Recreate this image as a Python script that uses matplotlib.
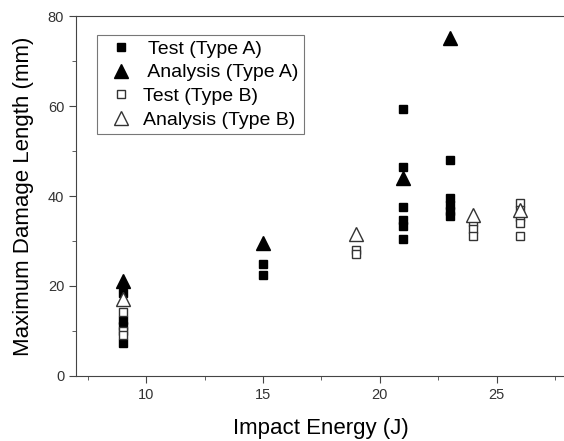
import matplotlib
matplotlib.use("Agg")
import matplotlib.pyplot as plt
from matplotlib.ticker import MultipleLocator

plt.rcParams["font.family"] = ["Liberation Sans", "DejaVu Sans"]

# Test (Type A): filled squares
test_a_x = [9, 9, 9, 9, 15, 15, 21, 21, 21, 21, 21, 21, 23, 23, 23, 23, 23]
test_a_y = [18.5, 12.4, 11.2, 7.3, 24.8, 22.4, 59.3, 46.5, 37.6, 34.7, 33.4, 30.4,
            48.0, 39.5, 38.0, 36.6, 35.6]

# Analysis (Type A): filled triangles
ana_a_x = [9, 15, 21, 23]
ana_a_y = [21.0, 29.5, 43.9, 75.2]

# Test (Type B): open squares
test_b_x = [9, 9, 9, 19, 19, 24, 24, 24, 26, 26, 26, 26, 26]
test_b_y = [14.2, 9.9, 9.2, 28.0, 27.1, 34.3, 32.7, 31.1, 38.5, 36.9, 35.4, 34.1, 31.1]

# Analysis (Type B): open triangles
ana_b_x = [9, 19, 24, 26]
ana_b_y = [17.2, 31.5, 35.8, 36.8]

fig = plt.figure(figsize=(5.64, 4.41), dpi=100)
ax = fig.add_axes([0.1348, 0.1474, 0.870, 0.8163])

ax.plot(test_a_x, test_a_y, "s", ms=5.5, mfc="black", mec="black", ls="none",
        label=" Test (Type A)")
ax.plot(ana_a_x, ana_a_y, "^", ms=10.5, mfc="black", mec="black", ls="none",
        label=" Analysis (Type A)")
ax.plot(test_b_x, test_b_y, "s", ms=5.5, mfc="white", mec="#333333", mew=1.0,
        ls="none", label="Test (Type B)")
ax.plot(ana_b_x, ana_b_y, "^", ms=10.5, mfc="white", mec="#333333", mew=1.0,
        ls="none", label="Analysis (Type B)")

ax.set_xlim(7, 28)
ax.set_ylim(0, 80)
ax.xaxis.set_major_locator(MultipleLocator(5))
ax.xaxis.set_minor_locator(MultipleLocator(2.5))
ax.yaxis.set_major_locator(MultipleLocator(20))
ax.yaxis.set_minor_locator(MultipleLocator(10))
ax.tick_params(which="both", direction="out", top=False, right=False,
               labelsize=10.5, labelcolor="#333333", color="#444444")
ax.tick_params(which="major", length=5)
ax.tick_params(which="minor", length=3)
ax.spines["right"].set_visible(False)
for s in ["left", "bottom", "top"]:
    ax.spines[s].set_color("#444444")

ax.set_xlabel("Impact Energy (J)", fontsize=16, labelpad=12)
ax.set_ylabel("Maximum Damage Length (mm)", fontsize=16, labelpad=10)

leg = ax.legend(loc="upper left", bbox_to_anchor=(0.042, 0.947), borderaxespad=0,
                fontsize=14, frameon=True, fancybox=False, edgecolor="#555555",
                handletextpad=0.15, labelspacing=0.32, borderpad=0.25,
                handlelength=2.0)
leg.get_frame().set_linewidth(0.8)

fig.savefig("out.png", dpi=100)
